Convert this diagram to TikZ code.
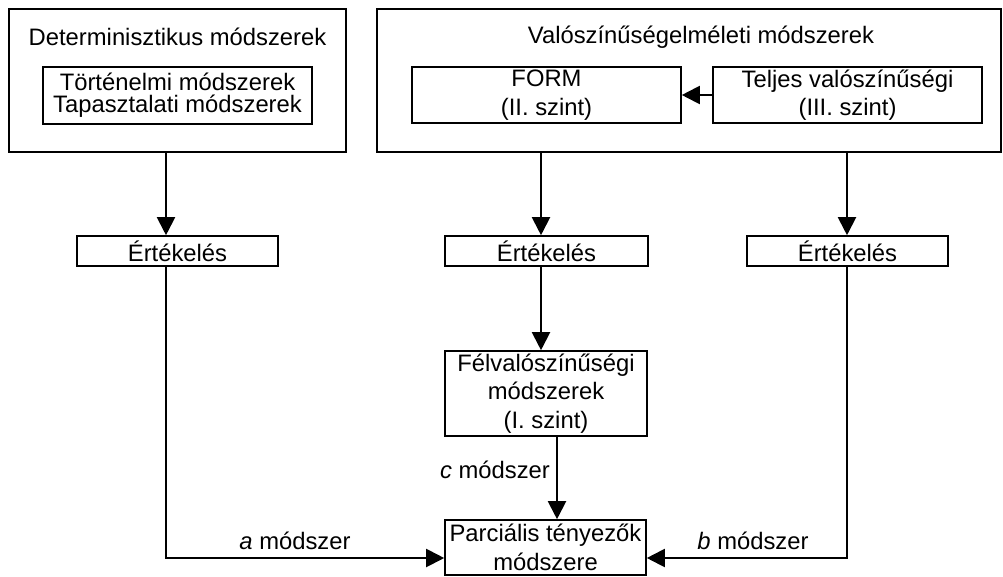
\documentclass[tikz,border=0pt]{standalone}
\usepackage{fontspec}
\setmainfont{Liberation Sans}
\usetikzlibrary{arrows.meta,calc}
\newcommand\fsz{\fontsize{23.8pt}{28.5pt}\selectfont}
\newcommand\fszt{\fontsize{23.8pt}{22pt}\selectfont}
\begin{document}
\begin{tikzpicture}[x=1pt,y=-1pt,
  box/.style={draw,line width=1.6pt,inner sep=0pt,align=center,font=\fsz},
  txt/.style={inner sep=0pt,align=center,font=\fsz},
  arr/.style={line width=2pt,-{Triangle[length=18pt,width=18pt]}},
]
\useasboundingbox (0,0) rectangle (1003,576);
\fill[white] (0,0) rectangle (1003,576);
% top-left group
\node[box,minimum width=337pt,minimum height=143pt] (outerL) at (177.5,80.5) {};
\node[txt] (titleL) at (177.5,37) {Determinisztikus módszerek};
\node[box,minimum width=269pt,minimum height=57pt,font=\fszt] (hist) at (177.5,95.5) {Történelmi módszerek\\Tapasztalati módszerek};
% top-right group
\node[box,minimum width=624pt,minimum height=143pt] (outerR) at (689,80.5) {};
\node[txt] (titleR) at (701,37) {Valószínűségelméleti módszerek};
\node[box,minimum width=269pt,minimum height=56pt] (form) at (546.5,95) {FORM\\(II. szint)};
\node[box,minimum width=269pt,minimum height=56pt] (teljes) at (847.5,95) {Teljes valószínűségi\\(III. szint)};
% evaluation boxes
\node[box,minimum width=201pt,minimum height=30pt] (ev1) at (177.5,251) {Értékelés};
\node[box,minimum width=203pt,minimum height=30pt] (ev2) at (546.5,251) {Értékelés};
\node[box,minimum width=201pt,minimum height=30pt] (ev3) at (847.5,251) {Értékelés};
% lower boxes
\node[box,minimum width=202pt,minimum height=85pt] (felv) at (546,393.5) {Félvalószínűségi\\módszerek\\(I. szint)};
\node[box,minimum width=201pt,minimum height=55pt] (parc) at (545.5,547.5) {Parciális tényezők\\módszere};
% helper coordinates
\coordinate (xa) at (166,0);
\coordinate (xb) at (541,0);
\coordinate (xc) at (847,0);
\coordinate (xd) at (557,0);
\coordinate (yl) at (0,558);
% connectors
\draw[arr] (teljes.west) -- (form.east);
\draw[arr] (outerL.south -| xa) -- (ev1.north -| xa);
\draw[arr] (outerR.south -| xb) -- (ev2.north -| xb);
\draw[arr] (outerR.south -| xc) -- (ev3.north -| xc);
\draw[arr] (ev2.south -| xb) -- (felv.north -| xb);
\draw[arr] (felv.south -| xd) -- (parc.north -| xd);
\draw[arr] (ev1.south -| xa) |- (parc.west |- yl);
\draw[arr] (ev3.south -| xc) |- (parc.east |- yl);
% labels
\node[txt] (la) at (295,541) {\textit{a} módszer};
\node[txt] (lb) at (753,541) {\textit{b} módszer};
\node[txt] (lc) at (495,470) {\textit{c} módszer};
\end{tikzpicture}
\end{document}
